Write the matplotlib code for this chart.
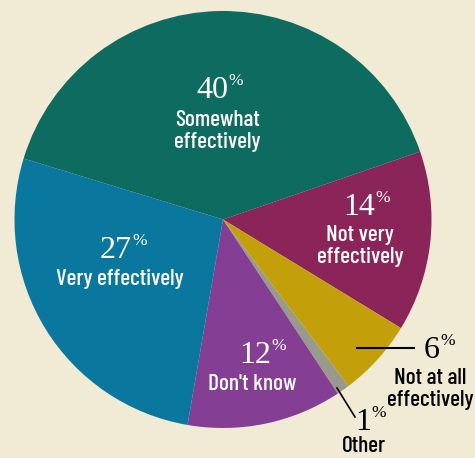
import matplotlib
matplotlib.use("Agg")
import matplotlib.pyplot as plt

# survey answers, clockwise from the top-left
answers = ["Somewhat\neffectively", "Not very\neffectively", "Not at all\neffectively",
           "Other", "Don't know", "Very effectively"]
shares = [40, 14, 6, 1, 12, 27]
colors = ["#0d6b5f", "#8a2459", "#c3a00a", "#9a9a8c", "#843f95", "#0a779f"]

W, H = 475, 458
BG = "#f1ead4"

lab_font = dict(family=["Barlow Condensed", "Asap Condensed", "DejaVu Sans"],
                weight="medium")
num_font = dict(family=["Liberation Serif", "DejaVu Serif"])

fig = plt.figure(figsize=(W / 100, H / 100), dpi=100)
fig.patch.set_facecolor(BG)
ax = fig.add_axes([0, 0, 1, 1])
ax.set_facecolor(BG)

cx, cy, r = 223, H - 219.5, 208.5
ax.pie(shares, colors=colors, startangle=163, counterclock=False,
       center=(cx, cy), radius=r, wedgeprops=dict(linewidth=0))
ax.set_xlim(0, W)
ax.set_ylim(0, H)
ax.set_aspect("equal")
ax.axis("off")


def label(val, xr, base, text, tx, ty, color="white"):
    # big serif number, small % sign, narrow caption below
    ax.text(xr, H - base, str(val), ha="right", va="baseline", fontsize=23,
            color=color, **num_font)
    ax.text(xr + 0.5, H - base + 13, "%", ha="left", va="baseline", fontsize=12.5,
            color=color, **num_font)
    ax.text(tx, H - ty, text, ha="center", va="center", fontsize=16.8,
            color=color, linespacing=1.17, **lab_font)


label(shares[0], 228, 98, answers[0], 217, 131)
label(shares[1], 375, 215, answers[1], 360, 246)
label(shares[5], 132, 258, answers[5], 120, 279)
label(shares[4], 271, 363, answers[4], 252, 384)
label(shares[2], 440, 358, answers[2], 430, 389, color="black")
label(shares[3], 371, 430, answers[3], 364, 446, color="black")

# leader lines for the two thin slices
ax.plot([357, 414], [H - 348, H - 348], color="black", lw=1.5)
ax.plot([337, 355], [H - 388, H - 417], color="black", lw=1.2)

fig.savefig("out.png", dpi=100, facecolor=BG)
